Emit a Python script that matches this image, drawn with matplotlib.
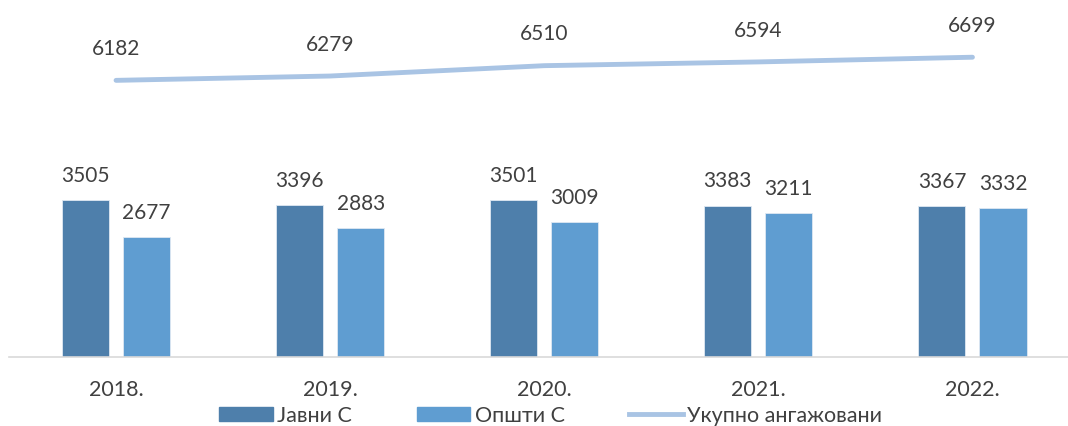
import numpy as np
import matplotlib.pyplot as plt
from matplotlib.patches import Patch
from matplotlib.lines import Line2D

# data
years = ['2018.', '2019.', '2020.', '2021.', '2022.']
javni = [3505, 3396, 3501, 3383, 3367]
opsti = [2677, 2883, 3009, 3211, 3332]
ukupno = [6182, 6279, 6510, 6594, 6699]
series_names = ['Јавни С', 'Општи С', 'Укупно ангажовани']

DARK = '#4e7fab'
LIGHT = '#5f9dd1'
LINE = '#a9c4e4'
TEXT = '#404040'

plt.rcParams['font.family'] = ['Lato', 'DejaVu Sans']

W, H = 1068, 427
fig = plt.figure(figsize=(W / 100, H / 100), dpi=100)
ax = fig.add_axes([9 / W, (H - 358) / H, 1070.5 / W, 358 / H])

x = np.arange(len(years))
bw = 0.22
off = 0.1425
b1 = ax.bar(x - off, javni, bw, color=DARK, edgecolor='#dfe8f2', linewidth=0.6)
b2 = ax.bar(x + off, opsti, bw, color=LIGHT, edgecolor='#dfe8f2', linewidth=0.6)
ax.plot(x, ukupno, color=LINE, linewidth=3.5, solid_capstyle='round')

ax.bar_label(b1, padding=11, fontsize=15, color=TEXT)
ax.bar_label(b2, padding=11, fontsize=15, color=TEXT)
for xi, v in zip(x, ukupno):
    ax.annotate(str(v), (xi, v), xytext=(0, 16), textcoords='offset points',
                ha='center', va='bottom', fontsize=15, color=TEXT)

ax.set_xlim(-0.5, len(years) - 0.5)
ax.set_ylim(0, 8000)
ax.set_xticks(x)
ax.set_xticklabels(years, fontsize=15.5, color=TEXT)
ax.tick_params(axis='x', length=0, pad=16)
ax.set_yticks([])
for s in ['top', 'right', 'left']:
    ax.spines[s].set_visible(False)
ax.spines['bottom'].set_color('#d9d9d9')
ax.spines['bottom'].set_linewidth(1.2)

handles = [Patch(color=DARK), Patch(color=LIGHT),
           Line2D([], [], color=LINE, linewidth=3.5)]
ax.legend(handles, series_names, loc='center', bbox_to_anchor=(0.506, -0.163),
          ncol=3, frameon=False, fontsize=15.5, labelcolor=TEXT,
          handlelength=2.5, handleheight=0.6, handletextpad=0.2,
          columnspacing=3.0, borderpad=0)

fig.savefig('out.png', dpi=100)
